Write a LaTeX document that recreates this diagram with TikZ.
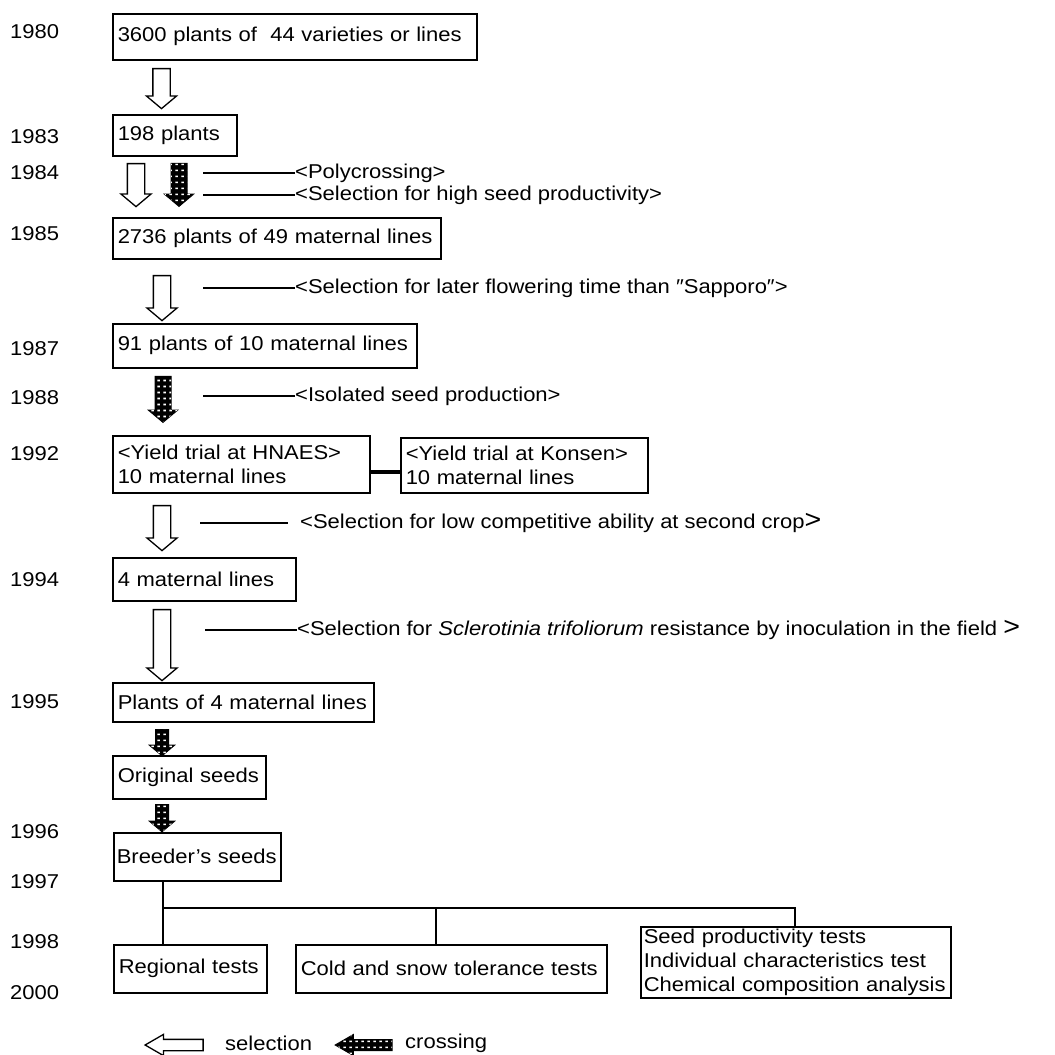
\documentclass[tikz,border=0pt]{standalone}
\usepackage{fontspec}
\setmainfont{Liberation Sans}[FakeStretch=1.1]
\usetikzlibrary{shapes.arrows, patterns}

\pgfdeclarepatternformonly{flecks}{\pgfpointorigin}{\pgfpoint{6pt}{6pt}}{\pgfpoint{6pt}{6pt}}{%
\pgfpathrectangle{\pgfpoint{1.5pt}{2pt}}{\pgfpoint{3pt}{1.8pt}}%
\pgfusepath{fill}}

\begin{document}
\begin{tikzpicture}[x=1pt, y=-1pt, font=\fontsize{20}{24}\selectfont,
  stage/.style={draw, line width=1.5pt, anchor=north west, align=left, inner xsep=5pt, inner ysep=0pt},
  year/.style={anchor=west, inner sep=0pt},
  note/.style={anchor=west, inner sep=0pt},
  leader/.style={line width=1.2pt},
  tree/.style={line width=1.6pt},
  blockarrow/.style={single arrow, draw, inner xsep=0pt, single arrow head indent=0pt},
  selarrow/.style={blockarrow, fill=white, line width=1.3pt, inner ysep=8pt, single arrow head extend=6.5pt, single arrow tip angle=100, rotate=-90},
  crossarrow/.style={blockarrow, fill=black, postaction={pattern=flecks, pattern color=white}, line width=1pt, inner ysep=7.5pt, single arrow head extend=6.5pt, single arrow tip angle=100, rotate=-90},
  selkey/.style={blockarrow, fill=white, line width=1.3pt, inner ysep=5pt, single arrow head extend=5pt, single arrow tip angle=60, rotate=180},
  crosskey/.style={blockarrow, fill=black, postaction={pattern=flecks, pattern color=white}, line width=1pt, inner ysep=5pt, single arrow head extend=5pt, single arrow tip angle=60, rotate=180},
]
\useasboundingbox (0,0) rectangle (1055,1055);

\foreach \yr/\ypos in {1980/32, 1983/137, 1984/173, 1985/234, 1987/349, 1988/398, 1992/454, 1994/580, 1995/702, 1996/832, 1997/882, 1998/942, 2000/993}
  \node[year] (y\yr) at (10,\ypos) {\yr};

\node[stage, text width=354pt, minimum height=46pt] (pool) at (112,13) {3600 plants of~~44 varieties or lines};
\node[stage, text width=114pt, minimum height=41pt] (first) at (112,114) {198 plants};
\node[stage, text width=318pt, minimum height=41pt] (polyx) at (112,217) {2736 plants of 49 maternal lines};
\node[stage, text width=294pt, minimum height=44pt] (late) at (112,323) {91 plants of 10 maternal lines};
\node[stage, text width=247pt, minimum height=57pt] (hnaes) at (112,435) {<Yield trial at HNAES>\\10 maternal lines};
\node[stage, text width=237pt, minimum height=55pt] (konsen) at (400,437) {<Yield trial at Konsen>\\10 maternal lines};
\node[stage, text width=173pt, minimum height=43pt] (four) at (112,557) {4 maternal lines};
\node[stage, text width=251pt, minimum height=39pt] (plants) at (112,682) {Plants of 4 maternal lines};
\node[stage, text width=143pt, minimum height=43pt] (original) at (112,755) {Original seeds};
\node[stage, text width=161pt, inner xsep=3pt, minimum height=48pt] (breeder) at (113,832) {Breeder’s seeds};
\node[stage, text width=143pt, minimum height=48pt] (regional) at (113,944) {Regional tests};
\node[stage, text width=301pt, minimum height=48pt] (cold) at (295,944) {Cold and snow tolerance tests};
\node[stage, text width=304pt, inner xsep=3pt, minimum height=71pt] (analysis) at (640,926) {Seed productivity tests\\Individual characteristics test\\Chemical composition analysis};

\node[selarrow, minimum height=40pt] (a1) at (161.5,85) {};
\node[selarrow, minimum height=43pt] (a2) at (136,181.5) {};
\node[crossarrow, minimum height=43pt] (a3) at (179,181.5) {};
\node[selarrow, minimum height=45pt] (a4) at (162,294.5) {};
\node[crossarrow, minimum height=46pt] (a5) at (163,396) {};
\node[selarrow, minimum height=45pt] (a6) at (162,524.5) {};
\node[selarrow, minimum height=71pt] (a7) at (162,641.5) {};
\node[crossarrow, inner ysep=6pt, single arrow head extend=6pt, minimum height=26pt] (a8) at (162,740) {};
\node[crossarrow, inner ysep=6pt, single arrow head extend=6pt, minimum height=27pt] (a9) at (162,815.5) {};

\node[note] (poly) at (295,173) {<Polycrossing>};
\node[note] (seedsel) at (295,195) {<Selection for high seed productivity>};
\node[note] (flower) at (295,288) {<Selection for later flowering time than ″Sapporo″>};
\node[note] (isol) at (295,396) {<Isolated seed production>};
\node[note] (compet) at (300,523) {<Selection for low competitive ability at second crop{\fontsize{26}{26}\selectfont >}};
\node[note] (sclero) at (297,630) {<Selection for \textit{Sclerotinia trifoliorum} resistance by inoculation in the field {\fontsize{26}{26}\selectfont >}};

\coordinate (l1) at (203,173);
\coordinate (l2) at (203,195);
\coordinate (l3) at (203,288);
\coordinate (l4) at (203,396);
\coordinate (l5) at (200,523);
\coordinate (l6) at (205,630);
\draw[leader] (l1) -- (poly.west);
\draw[leader] (l2) -- (seedsel.west);
\draw[leader] (l3) -- (flower.west);
\draw[leader] (l4) -- (isol.west);
\draw[leader] (l5) -- ([xshift=-12pt]compet.west);
\draw[leader] (l6) -- (sclero.west);

\coordinate (link) at (0,472);
\draw[line width=4pt] (hnaes.east |- link) -- (konsen.west |- link);

\coordinate (forkL) at (163,908);
\coordinate (forkM) at (436,908);
\coordinate (forkR) at (795,908);
\draw[tree] (breeder.south -| forkL) -- (regional.north -| forkL);
\draw[tree] (forkL) -- (forkR) -- (analysis.north -| forkR);
\draw[tree] (forkM) -- (cold.north -| forkM);

\node[selkey, minimum height=58pt] (keysel) at (179,1045) {};
\node[note] (keyseltxt) at (225,1043) {selection};
\node[crosskey, minimum height=57pt] (keycross) at (368.5,1045) {};
\node[note] (keycrosstxt) at (405,1043) {crossing};

\end{tikzpicture}
\end{document}
